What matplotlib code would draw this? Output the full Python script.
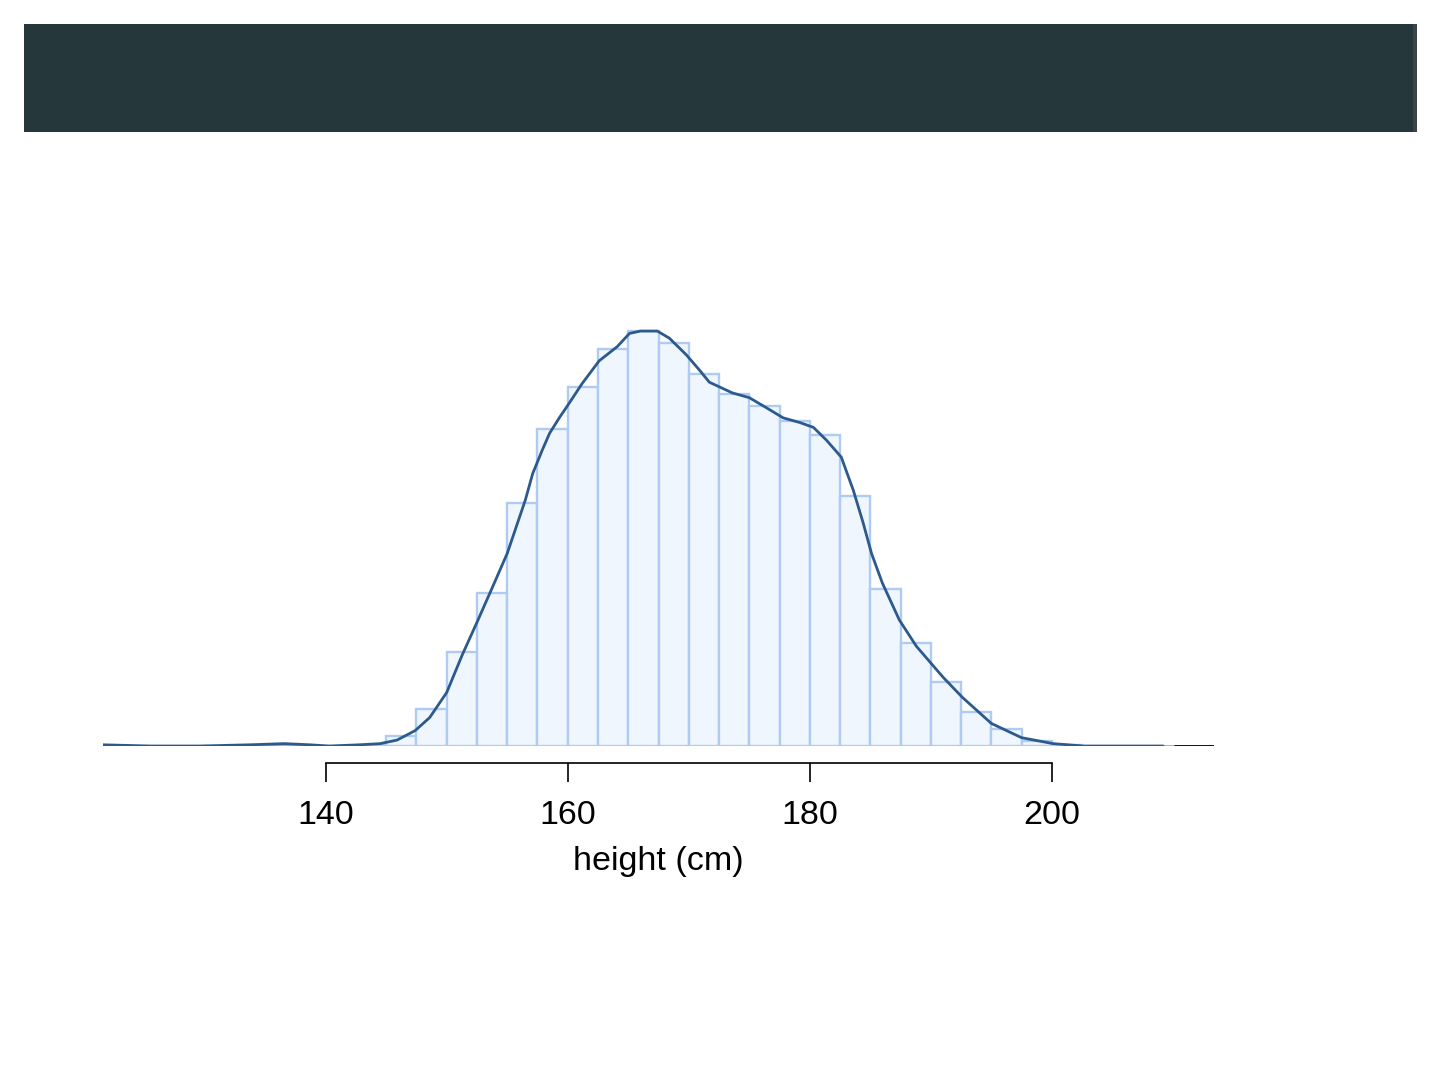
import numpy as np
import matplotlib
matplotlib.use("Agg")
import matplotlib.pyplot as plt
from matplotlib.patches import Rectangle

plt.rcParams['font.family'] = ['Liberation Sans', 'DejaVu Sans']

# histogramme (densite, bacs de 2.5 cm)
bin_left = [142.5, 145, 147.5, 150, 152.5, 155, 157.5, 160, 162.5, 165,
            167.5, 170, 172.5, 175, 177.5, 180, 182.5, 185, 187.5, 190,
            192.5, 195, 197.5, 200]
hist_density = [0.0001, 0.0008, 0.0031, 0.0079, 0.0129, 0.0204, 0.0267, 0.0302,
                0.0334, 0.0349, 0.0339, 0.0313, 0.0296, 0.0286, 0.0273, 0.0262,
                0.0210, 0.0132, 0.0087, 0.0054, 0.0029, 0.0014, 0.0004, 0.0001]
bin_width = 2.5

# estimation de densite (courbe)
kde_x = [121.6, 125.5, 129.6, 133.7, 136.6, 138.7, 140.3, 142.8, 144.5, 145.9,
         147.4, 148.6, 150.0, 151.3, 152.5, 153.8, 155.0, 155.8, 156.5, 157.1,
         157.9, 158.5, 159.3, 159.9, 161.2, 162.6, 164.1, 165.1, 166.0, 167.4,
         168.4, 169.8, 170.9, 171.7, 173.6, 175.0, 176.5, 177.8, 179.2, 180.3,
         181.4, 182.6, 183.6, 184.4, 185.1, 186.0, 187.4, 188.8, 189.9, 191.0,
         192.6, 195.0, 197.5, 200.1, 202.6, 209.2]
kde_y = [0.0001, 0.0000, 0.0000, 0.0001, 0.0002, 0.0001, 0.0000, 0.0001, 0.0002, 0.0005,
         0.0013, 0.0024, 0.0045, 0.0077, 0.0104, 0.0134, 0.0162, 0.0186, 0.0207, 0.0229,
         0.0249, 0.0263, 0.0276, 0.0285, 0.0305, 0.0324, 0.0336, 0.0347, 0.0349, 0.0349,
         0.0343, 0.0329, 0.0316, 0.0306, 0.0297, 0.0293, 0.0284, 0.0276, 0.0272, 0.0268,
         0.0257, 0.0243, 0.0215, 0.0188, 0.0162, 0.0137, 0.0106, 0.0084, 0.0071, 0.0058,
         0.0041, 0.0019, 0.0007, 0.0002, 0.0000, 0.0000]

base_span = [121.6, 210.1]
x_ticks = [140, 160, 180, 200]

fig = plt.figure(figsize=(14.4, 10.8), dpi=100)

# bandeau sombre en haut
fig.patches.append(Rectangle((24 / 1440, 1 - 132 / 1080), 1393 / 1440, 108 / 1080,
                             transform=fig.transFigure, facecolor='#26373c',
                             edgecolor='none', zorder=0))
fig.patches.append(Rectangle((1413 / 1440, 1 - 132 / 1080), 4 / 1440, 108 / 1080,
                             transform=fig.transFigure, facecolor='#3d4448',
                             edgecolor='none', zorder=1))

ax = fig.add_axes([103 / 1440, 1 - 746 / 1080, 1111 / 1440, 428 / 1080])

ax.axhline(0, color='black', lw=1.3, zorder=1)
ax.plot(base_span, [0, 0], color='#aecbf4', lw=2, zorder=2, solid_capstyle='butt')
ax.bar(bin_left, hist_density, width=bin_width, align='edge',
       facecolor='#f0f6fe', edgecolor='#aecbf4', linewidth=1.7, zorder=2)
ax.plot(kde_x, kde_y, color='#2c5a8c', lw=2.0, zorder=3,
        solid_joinstyle='round', solid_capstyle='round')

ax.set_xlim(121.6, 213.4)
ax.set_ylim(0, 0.036)

for s in ['left', 'right', 'top']:
    ax.spines[s].set_visible(False)
ax.spines['bottom'].set_position(('outward', 12))
ax.spines['bottom'].set_bounds(140, 200)
ax.spines['bottom'].set_linewidth(1.2)
ax.set_yticks([])
ax.set_xticks(x_ticks)
ax.tick_params(axis='x', direction='out', length=14, width=1.2, pad=13, labelsize=24.5)
ax.set_xlabel('height (cm)', fontsize=24.5, labelpad=11)

fig.savefig('out.png', dpi=100, facecolor='white')
